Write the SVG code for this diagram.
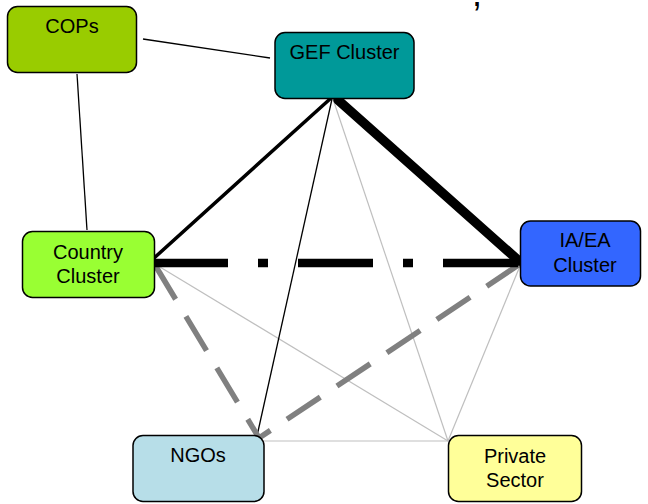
<svg xmlns="http://www.w3.org/2000/svg" width="648" height="504" viewBox="0 0 648 504">
<style>
.box{stroke:#000;stroke-width:1.5}
.t{font-family:"Liberation Sans",Arial,sans-serif;font-size:20px;fill:#000;text-anchor:middle}
.thin{stroke:#000;stroke-width:1.3;fill:none}
.light{stroke:#BFBFBF;stroke-width:1.2;fill:none}
.gdash{stroke:#808080;stroke-width:5.5;fill:none;stroke-dasharray:40 20}
</style>
<rect width="648" height="504" fill="#fff"/>
<text x="472" y="6" style="font-family:'Liberation Sans',Arial,sans-serif;font-size:36px">,</text>
<g id="connectors">
<line class="thin" x1="143" y1="39" x2="270" y2="58"/>
<line class="thin" x1="77" y1="74" x2="87" y2="230"/>
<line class="light" x1="333" y1="99" x2="448" y2="441"/>
<line class="light" x1="155" y1="264" x2="448" y2="441"/>
<line class="light" x1="520" y1="266" x2="448" y2="441"/>
<line class="light" x1="262" y1="441" x2="448" y2="441"/>
<line class="thin" x1="332" y1="99" x2="257" y2="436"/>
<line class="gdash" x1="155" y1="265" x2="259" y2="438"/>
<line class="gdash" x1="520" y1="264" x2="259" y2="438"/>
<line x1="153" y1="263" x2="520" y2="263" stroke="#000" stroke-width="8.5" stroke-dasharray="75 30 10 30"/>
<line x1="330" y1="99" x2="153" y2="259" stroke="#000" stroke-width="3.5" stroke-linecap="round"/>
<line x1="338" y1="100" x2="519" y2="261" stroke="#000" stroke-width="9.5" stroke-linecap="round"/>
</g>
<g id="cops">
<rect class="box" x="7.5" y="6.5" width="129" height="66" rx="10" fill="#99CC00"/>
<text class="t" x="72" y="33">COPs</text>
</g>
<g id="gef">
<rect class="box" x="275" y="32.5" width="139" height="66" rx="10" fill="#009999"/>
<text class="t" x="344.5" y="59">GEF Cluster</text>
</g>
<g id="country">
<rect class="box" x="22.5" y="231.5" width="132" height="66" rx="10" fill="#99FF33"/>
<text class="t" x="88" y="259">Country</text>
<text class="t" x="88" y="283">Cluster</text>
</g>
<g id="iaea">
<rect class="box" x="520.5" y="221" width="120" height="65" rx="10" fill="#3366FF"/>
<text class="t" x="585" y="247">IA/EA</text>
<text class="t" x="585" y="272">Cluster</text>
</g>
<g id="ngos">
<rect class="box" x="133" y="435.5" width="131" height="66" rx="10" fill="#B7DEE8"/>
<text class="t" x="198" y="462">NGOs</text>
</g>
<g id="private">
<rect class="box" x="448.5" y="435.5" width="133" height="66" rx="10" fill="#FFFF99"/>
<text class="t" x="515" y="463">Private</text>
<text class="t" x="515" y="487">Sector</text>
</g>
</svg>
